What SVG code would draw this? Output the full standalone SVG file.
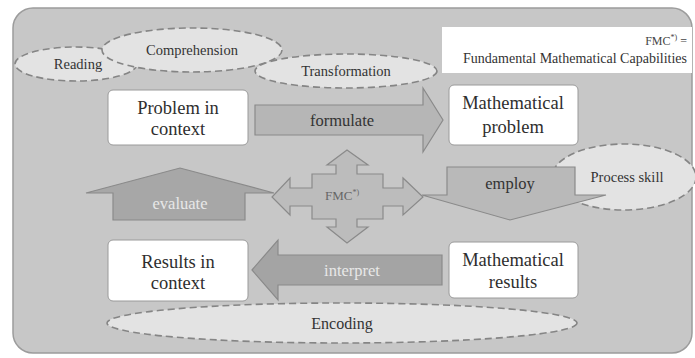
<svg xmlns="http://www.w3.org/2000/svg" width="695" height="358" viewBox="0 0 695 358">
<style>
text{font-family:"Liberation Serif","Times New Roman",serif;text-anchor:middle}
.node rect{fill:#ffffff;stroke:#9a9a9a;stroke-width:1}
.node text{font-size:18.5px;fill:#2e2e2e}
.ell ellipse{fill:#e3e3e3;stroke:#858585;stroke-width:1.6;stroke-dasharray:7 4}
.ell text{font-size:14.5px;fill:#333333}
.arr{stroke:#8a8a8a;stroke-width:1.2}
.lbl{font-size:16.5px}
</style>
<rect x="13" y="8" width="679" height="345" rx="20" ry="20" fill="#c7c7c7" stroke="#9c9c9c" stroke-width="1.5"/>
<g id="legend">
<rect x="442" y="27" width="250" height="46" fill="#ffffff"/>
<text x="687" y="45" style="text-anchor:end;font-size:12px;fill:#444">FMC<tspan font-size="8" dy="-5">*)</tspan><tspan dy="5"> =</tspan></text>
<text x="687" y="63" style="text-anchor:end;font-size:14px;fill:#333">Fundamental Mathematical Capabilities</text>
</g>
<g id="reading" class="ell"><ellipse cx="76" cy="64" rx="61" ry="17"/><text x="78" y="69">Reading</text></g>
<g id="comprehension" class="ell"><ellipse cx="192" cy="50" rx="90" ry="22"/><text x="192" y="55">Comprehension</text></g>
<g id="transformation" class="ell"><ellipse cx="346" cy="71" rx="91" ry="17"/><text x="346" y="76">Transformation</text></g>
<g id="process-skill" class="ell"><ellipse cx="624" cy="177" rx="72" ry="33"/><text x="627" y="182">Process skill</text></g>
<g id="encoding" class="ell"><ellipse cx="342" cy="323" rx="235" ry="20"/><text x="342" y="329" style="font-size:16px">Encoding</text></g>
<g id="connectors">
<g id="formulate">
<polygon class="arr" fill="#b6b6b6" points="255,105 423,105 423,88 443,120 423,152 423,135 255,135"/>
<text class="lbl" x="342" y="126" fill="#333">formulate</text>
</g>
<g id="employ">
<polygon class="arr" fill="#b9b9b9" points="447,167 575,167 575,195 606,195 510,220 422,195 447,195"/>
<text class="lbl" x="510" y="189" fill="#333">employ</text>
</g>
<g id="evaluate">
<polygon class="arr" fill="#a7a7a7" points="113,220 113,193 86,193 180,168 274,193 245,193 245,220"/>
<text class="lbl" x="180" y="209" fill="#e8e8e8">evaluate</text>
</g>
<g id="interpret">
<polygon class="arr" fill="#a4a4a4" points="252,270 278,240 278,255 442,255 442,285 278,285 278,300"/>
<text class="lbl" x="352" y="276" fill="#e8e8e8">interpret</text>
</g>
</g>
<g id="fmc">
<polygon class="arr" fill="#bcbcbc" stroke="#999" points="347,150 368,165 357,165 357,174 383,174 383,188 403,188 403,178 423,197 403,215 403,206 383,206 383,219 357,219 357,227 368,227 347,243 327,227 336,227 336,219 312,219 312,206 290,206 290,215 272,197 290,178 290,188 312,188 312,174 336,174 336,165 327,165"/>
<text x="342" y="200" style="font-size:13px;fill:#666">FMC<tspan font-size="8" dy="-5">*)</tspan></text>
</g>
<g id="problem-in-context" class="node">
<rect x="108" y="90" width="140" height="55" rx="5"/>
<text x="178" y="114">Problem in</text><text x="178" y="135">context</text>
</g>
<g id="mathematical-problem" class="node">
<rect x="449" y="85" width="129" height="60" rx="5"/>
<text x="513" y="109">Mathematical</text><text x="513" y="133">problem</text>
</g>
<g id="results-in-context" class="node">
<rect x="108" y="240" width="140" height="61" rx="5"/>
<text x="178" y="268">Results in</text><text x="178" y="289">context</text>
</g>
<g id="mathematical-results" class="node">
<rect x="449" y="242" width="129" height="56" rx="5"/>
<text x="513" y="266">Mathematical</text><text x="513" y="288">results</text>
</g>
</svg>
